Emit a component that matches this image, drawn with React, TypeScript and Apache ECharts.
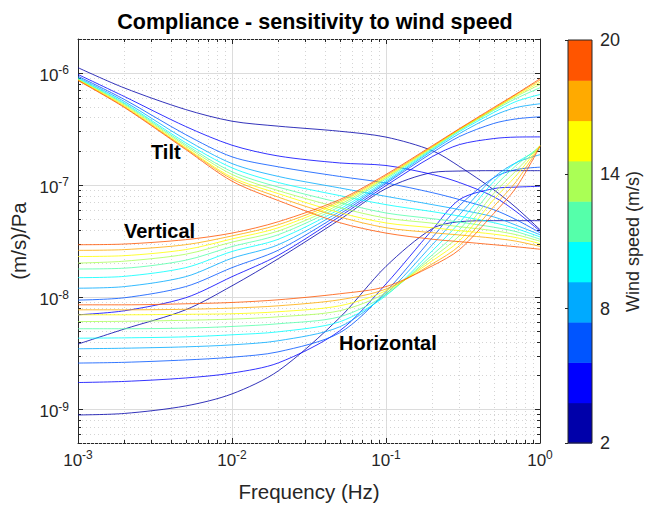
import React, { useEffect, useRef } from 'react';
import * as echarts from 'echarts';

// ---------- data ----------
const freqs = [0.001, 0.002, 0.005, 0.01, 0.02, 0.05, 0.1, 0.2, 0.3, 0.5, 0.7, 1];
const windSpeeds = [2, 4, 6, 8, 10, 12, 14, 16, 18, 20];
const windColors = ['#0000aa', '#0000ff', '#0055ff', '#00aaff', '#00ffff', '#55ffaa', '#aaff55', '#ffff00', '#ffaa00', '#ff5500'];
const colorbarEdges = [2, 3.8, 5.6, 7.4, 9.2, 11, 12.8, 14.6, 16.4, 18.2, 20];
const colorbarTicks = [2, 8, 14, 20];
const xMajorTicks = [0.001, 0.01, 0.1, 1];
const yMajorTicks = [1e-9, 1e-8, 1e-7, 1e-6];
const xMinorTicks = [0.002, 0.003, 0.004, 0.005, 0.006, 0.007, 0.008, 0.009, 0.02, 0.03, 0.04, 0.05, 0.06, 0.07, 0.08, 0.09, 0.2, 0.3, 0.4, 0.5, 0.6, 0.7, 0.8, 0.9];
const yMinorTicks = [5e-10, 6e-10, 7e-10, 8e-10, 9e-10, 2e-9, 3e-9, 4e-9, 5e-9, 6e-9, 7e-9, 8e-9, 9e-9, 2e-8, 3e-8, 4e-8, 5e-8, 6e-8, 7e-8, 8e-8, 9e-8, 2e-7, 3e-7, 4e-7, 5e-7, 6e-7, 7e-7, 8e-7, 9e-7, 2e-6];

// Tilt compliance, one array per wind speed
const tilt02 = [1.11e-6, 7.32e-7, 4.70e-7, 3.70e-7, 3.34e-7, 3.01e-7, 2.67e-7, 2.02e-7, 1.46e-7, 9.07e-8, 6.27e-8, 3.99e-8];
const tilt04 = [9.66e-7, 6.14e-7, 3.32e-7, 2.26e-7, 1.81e-7, 1.57e-7, 1.49e-7, 1.24e-7, 1.05e-7, 7.86e-8, 5.78e-8, 3.88e-8];
const tilt06 = [9.32e-7, 5.78e-7, 2.81e-7, 1.78e-7, 1.45e-7, 1.19e-7, 1.04e-7, 8.53e-8, 7.40e-8, 6.02e-8, 4.90e-8, 3.75e-8];
const tilt08 = [9.08e-7, 5.55e-7, 2.54e-7, 1.55e-7, 1.19e-7, 9.40e-8, 7.91e-8, 6.67e-8, 6.02e-8, 5.19e-8, 4.37e-8, 3.60e-8];
const tilt10 = [8.89e-7, 5.38e-7, 2.38e-7, 1.42e-7, 1.05e-7, 8.03e-8, 6.67e-8, 5.78e-8, 5.27e-8, 4.61e-8, 4.08e-8, 3.44e-8];
const tilt12 = [8.80e-7, 5.27e-7, 2.29e-7, 1.31e-7, 9.56e-8, 6.95e-8, 5.62e-8, 5.00e-8, 4.66e-8, 4.20e-8, 3.83e-8, 3.28e-8];
const tilt14 = [8.71e-7, 5.16e-7, 2.22e-7, 1.24e-7, 8.89e-8, 6.27e-8, 5.06e-8, 4.56e-8, 4.24e-8, 3.91e-8, 3.60e-8, 3.15e-8];
const tilt16 = [8.66e-7, 5.06e-7, 2.15e-7, 1.17e-7, 8.36e-8, 5.66e-8, 4.58e-8, 4.15e-8, 3.91e-8, 3.64e-8, 3.39e-8, 2.99e-8];
const tilt18 = [8.58e-7, 4.97e-7, 2.11e-7, 1.13e-7, 7.78e-8, 5.19e-8, 4.15e-8, 3.75e-8, 3.58e-8, 3.35e-8, 3.15e-8, 2.83e-8];
const tilt20 = [8.53e-7, 4.90e-7, 2.07e-7, 1.08e-7, 7.25e-8, 4.61e-8, 3.72e-8, 3.28e-8, 3.12e-8, 2.93e-8, 2.81e-8, 2.67e-8];

// Vertical compliance
const vert02 = [3.81e-9, 5.19e-9, 7.70e-9, 1.26e-8, 2.20e-8, 4.90e-8, 9.27e-8, 1.29e-7, 1.33e-7, 1.34e-7, 1.34e-7, 1.34e-7];
const vert04 = [6.95e-9, 7.55e-9, 9.86e-9, 1.52e-8, 2.36e-8, 5.22e-8, 9.86e-8, 1.79e-7, 2.29e-7, 2.59e-7, 2.67e-7, 2.68e-7];
const vert06 = [9.40e-9, 9.86e-9, 1.24e-8, 1.83e-8, 2.62e-8, 5.49e-8, 1.03e-7, 1.94e-7, 2.70e-7, 3.53e-7, 3.88e-7, 4.05e-7];
const vert08 = [1.20e-8, 1.24e-8, 1.52e-8, 2.22e-8, 2.93e-8, 5.78e-8, 1.06e-7, 2.02e-7, 2.87e-7, 4.15e-7, 4.90e-7, 5.29e-7];
const vert10 = [1.49e-8, 1.53e-8, 1.83e-8, 2.55e-8, 3.28e-8, 6.08e-8, 1.09e-7, 2.07e-7, 2.99e-7, 4.42e-7, 5.55e-7, 6.40e-7];
const vert12 = [1.78e-8, 1.81e-8, 2.13e-8, 2.82e-8, 3.60e-8, 6.40e-8, 1.13e-7, 2.11e-7, 3.06e-7, 4.61e-7, 5.90e-7, 7.35e-7];
const vert14 = [2.01e-8, 2.09e-8, 2.41e-8, 3.09e-8, 3.88e-8, 6.67e-8, 1.16e-7, 2.15e-7, 3.09e-7, 4.70e-7, 6.14e-7, 7.86e-7];
const vert16 = [2.30e-8, 2.34e-8, 2.65e-8, 3.30e-8, 4.15e-8, 6.95e-8, 1.18e-7, 2.18e-7, 3.12e-7, 4.75e-7, 6.27e-7, 8.24e-7];
const vert18 = [2.61e-8, 2.65e-8, 2.93e-8, 3.51e-8, 4.42e-8, 7.17e-8, 1.21e-7, 2.20e-7, 3.15e-7, 4.80e-7, 6.40e-7, 8.58e-7];
const vert20 = [2.93e-8, 2.97e-8, 3.25e-8, 3.72e-8, 4.70e-8, 7.40e-8, 1.24e-7, 2.24e-7, 3.18e-7, 4.90e-7, 6.48e-7, 8.84e-7];

// Horizontal compliance
const horiz02 = [8.89e-10, 9.17e-10, 1.07e-9, 1.37e-9, 2.20e-9, 6.54e-9, 1.88e-8, 4.08e-8, 4.70e-8, 4.80e-8, 4.80e-8, 4.80e-8];
const horiz04 = [1.73e-9, 1.77e-9, 1.90e-9, 2.10e-9, 2.59e-9, 5.00e-9, 1.31e-8, 3.99e-8, 7.40e-8, 9.27e-8, 9.56e-8, 9.72e-8];
const horiz06 = [2.58e-9, 2.62e-9, 2.75e-9, 2.91e-9, 3.25e-9, 4.80e-9, 1.12e-8, 3.39e-8, 6.54e-8, 1.16e-7, 1.37e-7, 1.44e-7];
const horiz08 = [3.46e-9, 3.50e-9, 3.60e-9, 3.75e-9, 4.08e-9, 5.43e-9, 1.07e-8, 2.93e-8, 5.43e-8, 1.16e-7, 1.58e-7, 1.86e-7];
const horiz10 = [4.30e-9, 4.33e-9, 4.42e-9, 4.61e-9, 4.90e-9, 6.02e-9, 1.03e-8, 2.59e-8, 4.61e-8, 1.07e-7, 1.58e-7, 2.07e-7];
const horiz12 = [5.22e-9, 5.22e-9, 5.29e-9, 5.47e-9, 5.78e-9, 6.67e-9, 1.05e-8, 2.38e-8, 3.99e-8, 9.46e-8, 1.49e-7, 2.20e-7];
const horiz14 = [6.05e-9, 6.08e-9, 6.21e-9, 6.36e-9, 6.67e-9, 7.55e-9, 1.09e-8, 2.24e-8, 3.53e-8, 8.36e-8, 1.34e-7, 2.24e-7];
const horiz16 = [6.95e-9, 6.95e-9, 7.02e-9, 7.10e-9, 7.40e-9, 8.36e-9, 1.14e-8, 2.11e-8, 3.18e-8, 7.40e-8, 1.21e-7, 2.24e-7];
const horiz18 = [7.70e-9, 7.70e-9, 7.78e-9, 7.98e-9, 8.36e-9, 9.46e-9, 1.18e-8, 1.98e-8, 2.87e-8, 6.40e-8, 1.07e-7, 2.22e-7];
const horiz20 = [8.53e-9, 8.53e-9, 8.71e-9, 8.95e-9, 9.46e-9, 1.07e-8, 1.24e-8, 1.90e-8, 2.65e-8, 5.55e-8, 9.46e-8, 2.20e-7];

const tiltSet = [tilt02, tilt04, tilt06, tilt08, tilt10, tilt12, tilt14, tilt16, tilt18, tilt20];
const vertSet = [vert02, vert04, vert06, vert08, vert10, vert12, vert14, vert16, vert18, vert20];
const horizSet = [horiz02, horiz04, horiz06, horiz08, horiz10, horiz12, horiz14, horiz16, horiz18, horiz20];

const titleText = 'Compliance - sensitivity to wind speed';
const xName = 'Frequency (Hz)';
const yName = '(m/s)/Pa';
const cbName = 'Wind speed (m/s)';

// ---------- style ----------
const FONT = '"Liberation Sans", Arial, Helvetica, sans-serif';
const INK = '#262626';
const GRID = { left: 78, top: 39, width: 462, height: 404 };
const CB = { left: 568, top: 40, width: 24, height: 403 };

function isMajor(v: number, list: number[]) {
  return list.some((t) => Math.abs(Math.log10(v) - Math.log10(t)) < 1e-6);
}

function powLabel(list: number[]) {
  return (v: number) => {
    if (!isMajor(v, list)) return '';
    const e = Math.round(Math.log10(v));
    return '{b|10}{s|' + e + '}';
  };
}

const rich = {
  b: { fontSize: 17, fontFamily: FONT, color: INK, lineHeight: 17, padding: [5, 0, 0, 0] },
  s: { fontSize: 12, fontFamily: FONT, color: INK, lineHeight: 12, verticalAlign: 'top' },
};

function buildOption() {
  const logAxisCommon = {
    type: 'log',
    logBase: 10,
    axisLine: { show: true, onZero: false, lineStyle: { color: INK, width: 1 } },
    axisTick: { show: true, inside: true, length: 5, lineStyle: { color: INK, width: 1 } },
  };
  const series: any[] = [];
  // minor (2..9 x 10^n) grid lines and ticks along x
  series.push({
    type: 'custom', xAxisIndex: 0, yAxisIndex: 0, silent: true, z: 1,
    data: xMinorTicks.map((v) => [v, 1e-8]), encode: { x: 0, y: 1 },
    renderItem: (params: any, api: any) => {
      const cs = params.coordSys;
      const x = Math.round(api.coord([api.value(0), 1e-8])[0]) + 0.5;
      const b = cs.y + cs.height;
      return {
        type: 'group', children: [
          { type: 'line', shape: { x1: x, y1: cs.y, x2: x, y2: b }, style: { stroke: '#d4d4d4', lineWidth: 1, lineDash: [1, 3] } },
          { type: 'line', shape: { x1: x, y1: b, x2: x, y2: b - 3 }, style: { stroke: INK, lineWidth: 1 } },
          { type: 'line', shape: { x1: x, y1: cs.y, x2: x, y2: cs.y + 3 }, style: { stroke: INK, lineWidth: 1 } },
        ],
      };
    },
    clip: false,
  });
  // minor grid lines and ticks along y
  series.push({
    type: 'custom', xAxisIndex: 0, yAxisIndex: 0, silent: true, z: 1,
    data: yMinorTicks.map((v) => [0.01, v]), encode: { x: 0, y: 1 },
    renderItem: (params: any, api: any) => {
      const cs = params.coordSys;
      const y = Math.round(api.coord([0.01, api.value(1)])[1]) + 0.5;
      const r = cs.x + cs.width;
      return {
        type: 'group', children: [
          { type: 'line', shape: { x1: cs.x, y1: y, x2: r, y2: y }, style: { stroke: '#d4d4d4', lineWidth: 1, lineDash: [1, 3] } },
          { type: 'line', shape: { x1: cs.x, y1: y, x2: cs.x + 3, y2: y }, style: { stroke: INK, lineWidth: 1 } },
          { type: 'line', shape: { x1: r, y1: y, x2: r - 3, y2: y }, style: { stroke: INK, lineWidth: 1 } },
        ],
      };
    },
    clip: false,
  });
  const groups = [tiltSet, vertSet, horizSet];
  windSpeeds.forEach((s, i) => {
    groups.forEach((g, k) => {
      series.push({
        type: 'line',
        name: ['Tilt', 'Vertical', 'Horizontal'][k] + ' ' + s,
        xAxisIndex: 0, yAxisIndex: 0,
        data: freqs.map((f, j) => [f, g[i][j]]),
        showSymbol: false, symbol: 'none',
        smooth: 0.3,
        lineStyle: { color: windColors[i], width: 1, opacity: 0.8 },
        silent: true, z: 3,
      });
    });
  });
  // colour bar bands
  series.push({
    type: 'custom', xAxisIndex: 2, yAxisIndex: 2, silent: true, z: 2,
    data: windColors.map((c, i) => [colorbarEdges[i], colorbarEdges[i + 1], 0.5]),
    encode: { x: 2, y: [0, 1] },
    renderItem: (params: any, api: any) => {
      const lo = api.value(0);
      const hi = api.value(1);
      const p0 = api.coord([0, lo]);
      const p1 = api.coord([1, hi]);
      return {
        type: 'rect',
        shape: { x: p0[0], y: p1[1], width: p1[0] - p0[0], height: p0[1] - p1[1] + 0.5 },
        style: { fill: windColors[params.dataIndex] },
      };
    },
  });

  return {
    animation: false,
    backgroundColor: '#ffffff',
    textStyle: { fontFamily: FONT },
    title: {
      text: titleText, left: 310, top: 6, textAlign: 'center',
      textStyle: { fontFamily: FONT, fontSize: 21.5, fontWeight: 'bold', color: '#000' },
    },
    grid: [
      { ...GRID, show: false, outerBoundsMode: 'none' },
      { ...CB, show: true, borderColor: INK, borderWidth: 1, backgroundColor: 'transparent', outerBoundsMode: 'none', z: 4 },
    ],
    xAxis: [
      {
        ...logAxisCommon, gridIndex: 0, position: 'bottom', min: 0.001, max: 1,
        axisLabel: { formatter: powLabel(xMajorTicks), rich, margin: 6 },
        splitLine: { show: true, lineStyle: { color: '#dcdcdc', width: 1 } },
        name: xName, nameLocation: 'middle', nameGap: 38,
        nameTextStyle: { fontFamily: FONT, fontSize: 20.5, color: INK },
      },
      {
        ...logAxisCommon, gridIndex: 0, position: 'top', min: 0.001, max: 1,
        axisLabel: { show: false }, splitLine: { show: false },
      },
      { type: 'value', gridIndex: 1, min: 0, max: 1, show: false },
    ],
    yAxis: [
      {
        ...logAxisCommon, gridIndex: 0, position: 'left', min: 5e-10, max: 2e-6,
        axisLabel: { formatter: powLabel(yMajorTicks), rich, margin: 9 },
        splitLine: { show: true, lineStyle: { color: '#dcdcdc', width: 1 } },
        name: yName, nameLocation: 'middle', nameGap: 47,
        nameTextStyle: { fontFamily: FONT, fontSize: 20.5, color: INK },
      },
      {
        ...logAxisCommon, gridIndex: 0, position: 'right', min: 5e-10, max: 2e-6,
        axisLabel: { show: false }, splitLine: { show: false },
      },
      {
        type: 'value', gridIndex: 1, position: 'right', min: 2, max: 20, interval: 6,
        axisLine: { show: false },
        axisTick: { show: true, inside: true, length: 3, lineStyle: { color: INK } },
        axisLabel: {
          show: true, margin: 8, fontFamily: FONT, fontSize: 18, color: INK,
          formatter: (v: number) => (colorbarTicks.includes(v) ? String(v) : ''),
        },
        splitLine: { show: false },
        name: cbName, nameLocation: 'middle', nameGap: 31,
        nameTextStyle: { fontFamily: FONT, fontSize: 18, color: INK },
      },
    ],
    graphic: [
      { type: 'text', left: 151, top: 142, style: { text: 'Tilt', font: 'bold 20px ' + FONT, fill: '#000' }, z: 10 },
      { type: 'text', left: 124, top: 221, style: { text: 'Vertical', font: 'bold 20px ' + FONT, fill: '#000' }, z: 10 },
      { type: 'text', left: 339, top: 333, style: { text: 'Horizontal', font: 'bold 20px ' + FONT, fill: '#000' }, z: 10 },
    ],
    series,
  };
}

export default function App() {
  const ref = useRef<HTMLDivElement>(null);
  useEffect(() => {
    const el = ref.current;
    if (!el) return;
    const chart = echarts.init(el, null, { renderer: 'svg' });
    chart.setOption(buildOption() as any);
    return () => chart.dispose();
  }, []);
  return (
    <div
      ref={ref}
      style={{ position: 'fixed', left: 0, top: 0, width: 645, height: 506, background: '#fff' }}
    />
  );
}
